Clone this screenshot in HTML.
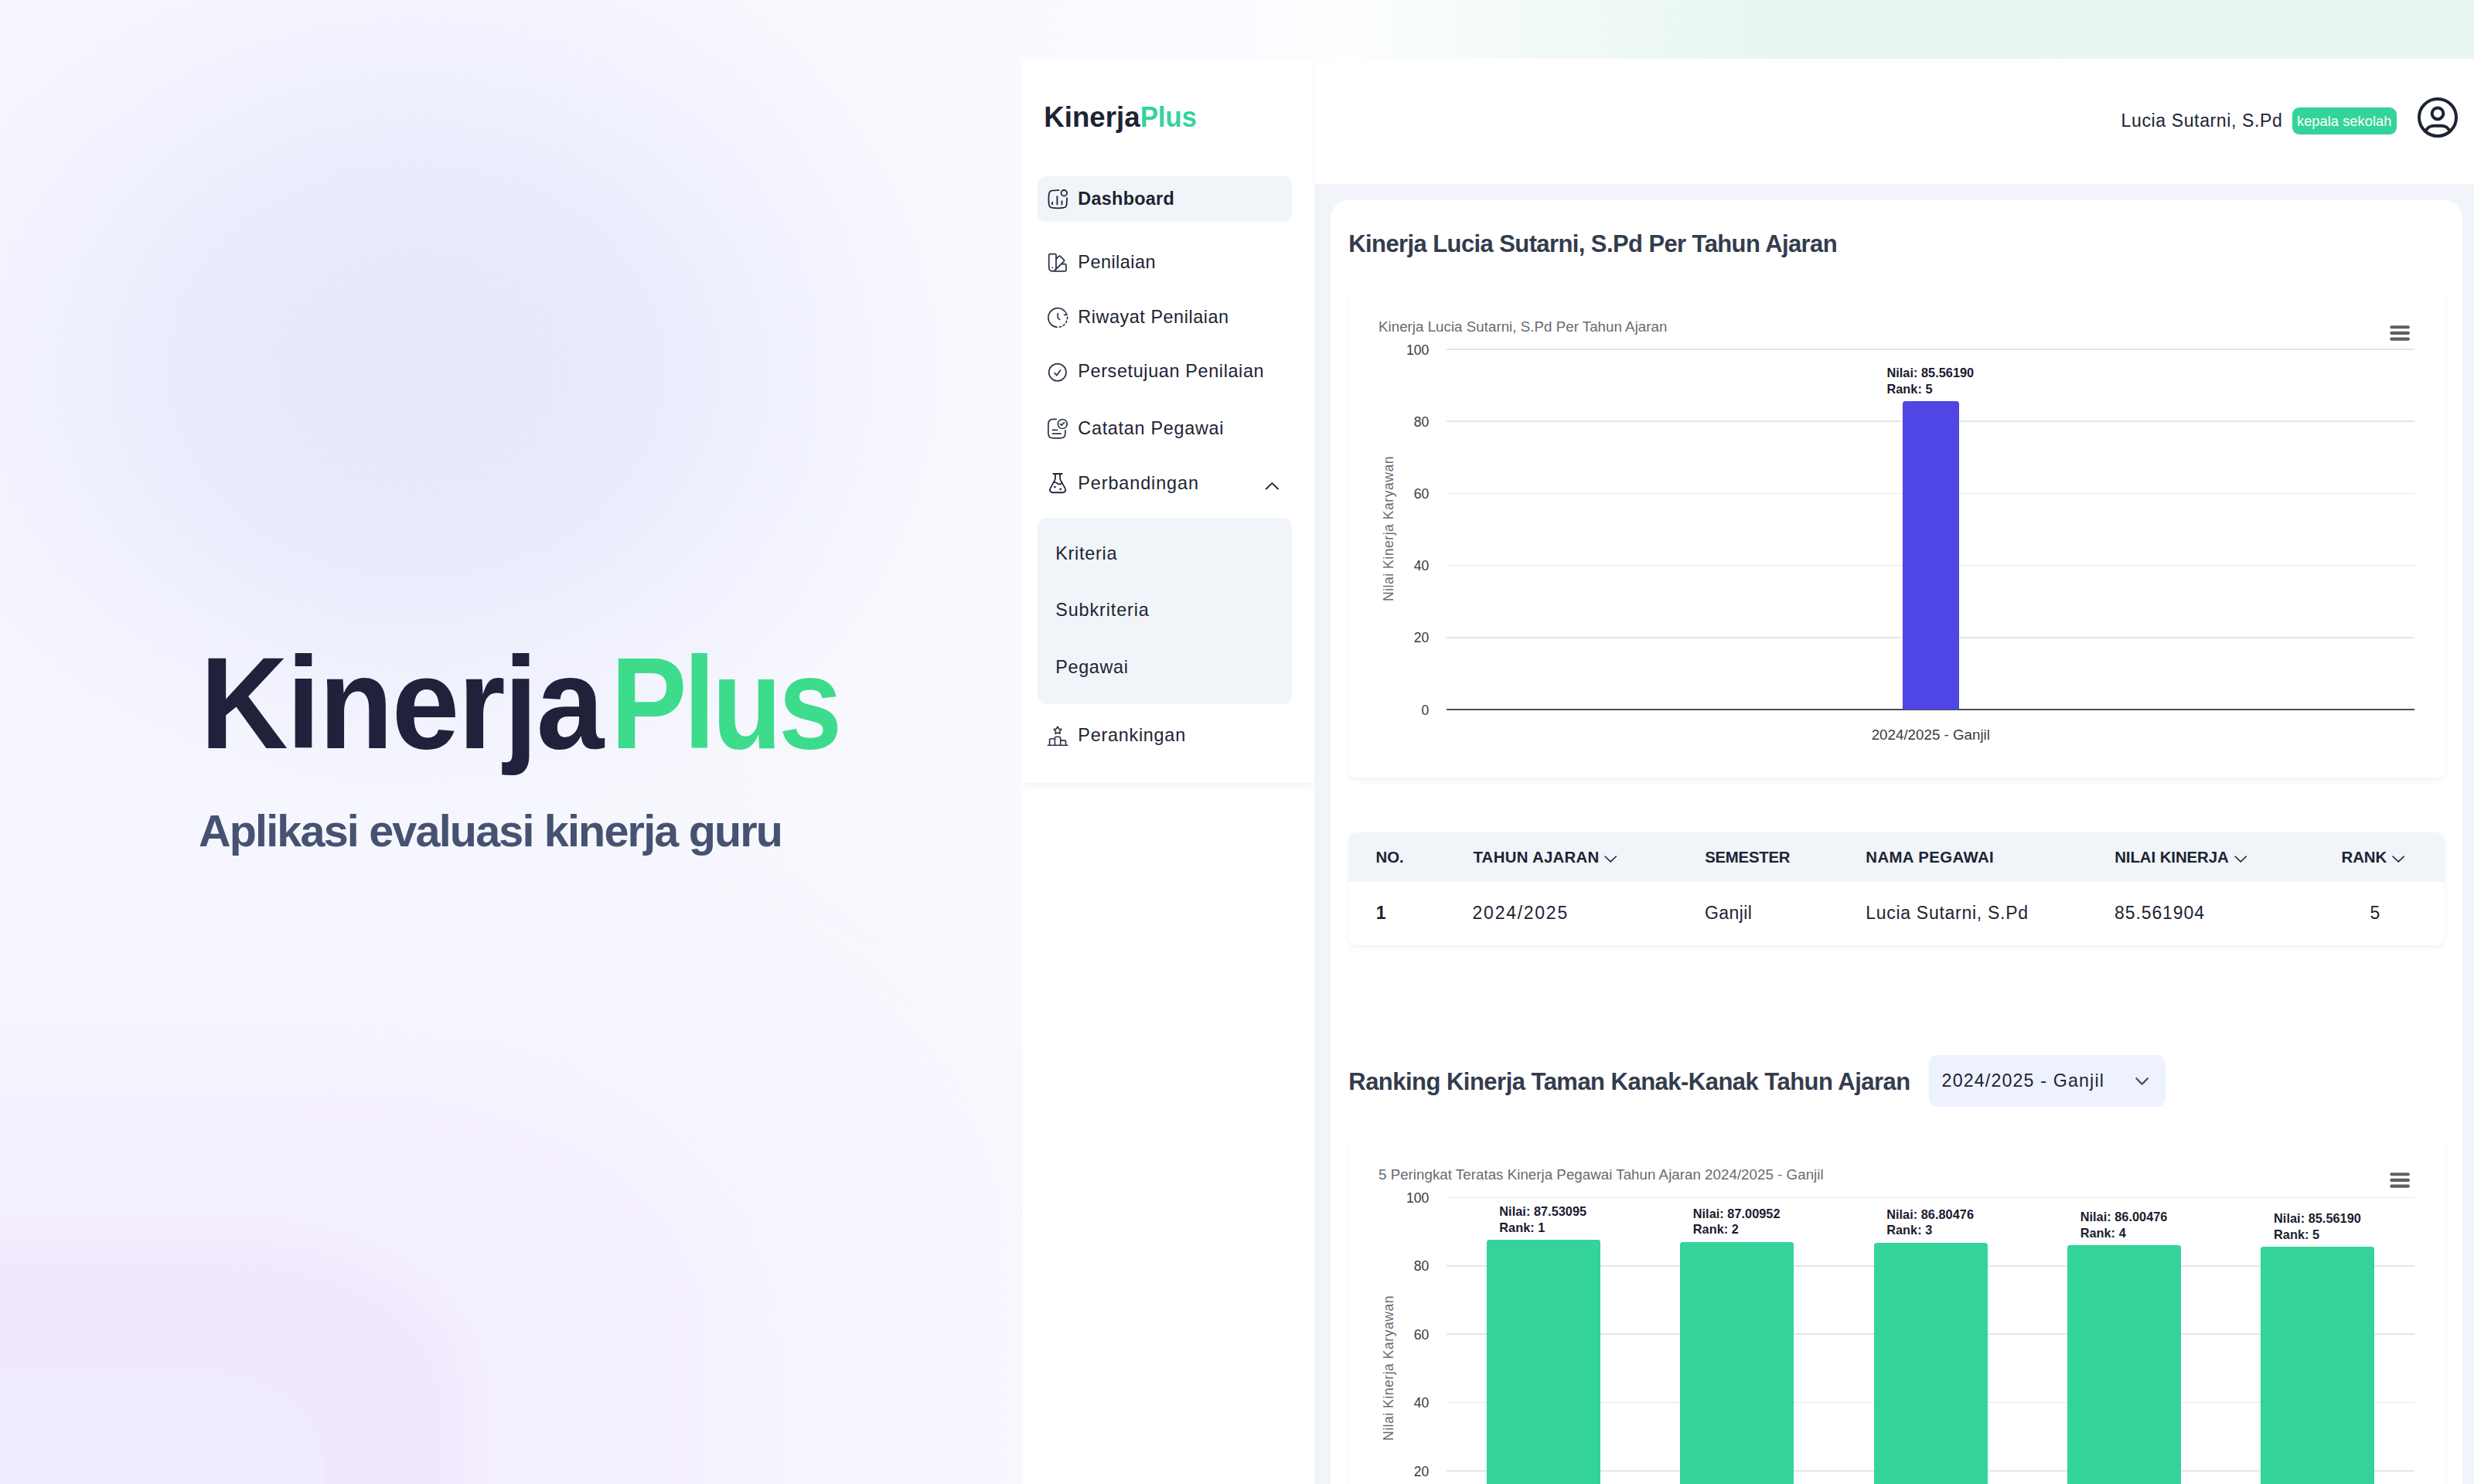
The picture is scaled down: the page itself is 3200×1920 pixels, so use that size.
<!DOCTYPE html>
<html lang="id">
<head>
<meta charset="utf-8">
<title>KinerjaPlus - Aplikasi evaluasi kinerja guru</title>
<style>
*{box-sizing:border-box;margin:0;padding:0}
html,body{width:3200px;height:1920px;overflow:hidden}
body{position:relative;font-family:"Liberation Sans",sans-serif;background:#f8f9fe;color:#1c2434}
.abs,.t{position:absolute}
.t{white-space:nowrap;line-height:1;display:block;font-weight:400}
h1,h2,h3{font-size:inherit;font-weight:inherit}
#bg{left:0;top:0;width:3200px;height:1920px;overflow:hidden;
 background:
  linear-gradient(90deg,rgba(231,246,242,0) 1740px,rgba(231,246,242,.5) 1990px,#e7f6f2 2300px,#e8f6f3 3200px),
  linear-gradient(90deg,#f6f6fe 0%,#f7f7fe 30%,#f9faff 42%,#fbfcff 50%,#fdfeff 56%,#fdfefe 100%);}
#bg i{position:absolute;display:block}
#b1{left:-170px;top:-110px;width:1420px;height:1180px;background:radial-gradient(closest-side,#e7e9fc 0%,#e9ebfc 40%,rgba(236,238,253,.6) 68%,rgba(244,245,254,0) 100%)}
#b2{left:-200px;top:1180px;width:1500px;height:900px;border-radius:0 640px 0 0/0 430px 0 0;background:#f7f4fe;filter:blur(70px)}
#b5{left:-200px;top:1400px;width:1130px;height:700px;border-radius:0 480px 0 0/0 330px 0 0;background:#f4effd;filter:blur(32px)}
#b3{left:-100px;top:1606px;width:697px;height:400px;border-radius:0 300px 0 0/0 190px 0 0;background:#f0e8fd;filter:blur(18px)}
#b4{left:-100px;top:1776px;width:519px;height:300px;border-radius:0 150px 0 0/0 130px 0 0;background:#efedfd;filter:blur(6px)}
#app{background:#fff;overflow:hidden}
#side{background:#fff;box-shadow:0 6px 10px -2px rgba(148,163,184,.13)}
#head{background:#fff;box-shadow:-1px 0 0 #f4f7fa}
#main{background:#f1f5f9}
#card{background:#fff;border-radius:23px 23px 0 0}
.nav-on{background:#f1f5f9;border-radius:10px}
.sub{background:#f1f5f9;border-radius:11px}
.ic{overflow:visible}
.panel{background:#fff;border-radius:10px;box-shadow:0 5px 7px -1px rgba(148,163,184,.13),0 0 1.5px rgba(148,163,184,.08)}
.grid{height:1.6px;background:#e6e6e8}
.axis{height:2px;background:#4e4e52}
.bar{border-radius:3.5px 3.5px 0 0}
.g{background:#34d399}
.v{background:#4f46e5}
.yt{position:absolute;white-space:nowrap;line-height:1;transform-origin:0 0;transform:rotate(-90deg)}
.badge{background:#34d399;border-radius:9px}
.sel{background:#eef2ff;border-radius:11px}
.tbl{background:#fff;border-radius:11px;box-shadow:0 2px 5px rgba(148,163,184,.16)}
.thead{background:#f1f5f9;border-radius:11px 11px 0 0}
</style>
</head>
<body>
<div id="bg" class="abs"><i id="b1"></i><i id="b2"></i><i id="b5"></i><i id="b3"></i><i id="b4"></i></div>

<section id="hero">
<h1>
<span class="t" style="left:258.8px;top:824.94px;font-size:169px;font-weight:700;letter-spacing:-2px;color:#20213a;transform-origin:0 0;transform:scaleX(.931)">Kinerja</span>
<span class="t" style="left:789.7px;top:824.94px;font-size:169px;font-weight:700;letter-spacing:-5px;color:#3ddc8c;transform-origin:0 0;transform:scaleX(.875)">Plus</span>
</h1>
<p class="t" style="left:257.00px;top:1047.33px;font-size:57.5px;font-weight:700;letter-spacing:-1.813px;color:#465272;">Aplikasi evaluasi kinerja guru</p>
</section>
<div id="app" class="abs" style="left:1323px;top:76px;width:1877px;height:1844px">
<aside id="side" class="abs " style="left:0.00px;top:0.00px;width:377.00px;height:937.00px;">
<div class="abs nav-on" style="left:18.80px;top:152.20px;width:329.00px;height:59.00px;"></div>
<div class="abs sub" style="left:18.80px;top:593.80px;width:329.00px;height:241.00px;"></div>
<span class="t" style="left:27.30px;top:57.72px;font-size:36.6px;font-weight:700;letter-spacing:0.030px;color:#1c2434;">Kinerja</span>
<span class="t" style="left:152.30px;top:57.72px;font-size:36.6px;font-weight:700;color:#34d399;letter-spacing:-.2px;transform-origin:0 0;transform:scaleX(.955);">Plus</span>
<span class="t" style="left:71.30px;top:169.89px;font-size:23.4px;font-weight:700;letter-spacing:0.284px;color:#1c2434;">Dashboard</span>
<span class="t" style="left:71.30px;top:251.89px;font-size:23.4px;letter-spacing:0.490px;color:#1c2434;">Penilaian</span>
<span class="t" style="left:71.30px;top:322.99px;font-size:23.4px;letter-spacing:0.550px;color:#1c2434;">Riwayat Penilaian</span>
<span class="t" style="left:71.30px;top:392.99px;font-size:23.4px;letter-spacing:0.637px;color:#1c2434;">Persetujuan Penilaian</span>
<span class="t" style="left:71.30px;top:466.79px;font-size:23.4px;letter-spacing:0.720px;color:#1c2434;">Catatan Pegawai</span>
<span class="t" style="left:71.30px;top:537.59px;font-size:23.4px;letter-spacing:0.906px;color:#1c2434;">Perbandingan</span>
<span class="t" style="left:42.20px;top:628.59px;font-size:23.4px;letter-spacing:0.740px;color:#1c2434;">Kriteria</span>
<span class="t" style="left:42.20px;top:702.19px;font-size:23.4px;letter-spacing:0.885px;color:#1c2434;">Subkriteria</span>
<span class="t" style="left:42.20px;top:775.59px;font-size:23.4px;letter-spacing:0.673px;color:#1c2434;">Pegawai</span>
<span class="t" style="left:71.30px;top:863.89px;font-size:23.4px;letter-spacing:0.750px;color:#1c2434;">Perankingan</span>
<svg class="abs ic" style="left:29.00px;top:166.00px" width="32.00" height="32.00" viewBox="1352.00 242.00 32.00 32.00" fill="none" stroke="#1e2739" stroke-width="1.8" stroke-linecap="round" stroke-linejoin="round"><g transform="translate(1354.04 243.77) scale(1.18 1.165)"><path stroke-width="1.53" d="M22 10.6V12c0 4.714 0 7.071-1.465 8.535C19.072 22 16.714 22 12 22s-7.071 0-8.536-1.465C2 19.072 2 16.714 2 12s0-7.071 1.464-8.536C4.93 2 7.286 2 12 2h1.2"/></g><circle cx="1376.3" cy="249.8" r="3.8"/><path d="M1361.1 261.6V264.4M1367.4 254.1V264.6M1373.5 260.1V264.5"/></svg>
<svg class="abs ic" style="left:30.30px;top:249.20px" width="29.7" height="29.7" viewBox="0 0 24 24" fill="none" stroke="#2b3548" stroke-width="1.42" stroke-linecap="round" stroke-linejoin="round"><path d="M4.098 19.902a3.75 3.75 0 0 0 5.304 0l6.401-6.402M6.75 21A3.75 3.75 0 0 1 3 17.25V4.125C3 3.504 3.504 3 4.125 3h5.25c.621 0 1.125.504 1.125 1.125v4.072M6.75 21a3.75 3.75 0 0 0 3.75-3.75V8.197M6.75 21h13.125c.621 0 1.125-.504 1.125-1.125v-5.25c0-.621-.504-1.125-1.125-1.125h-4.072M10.5 8.197l2.88-2.88c.438-.439 1.15-.439 1.59 0l3.712 3.713c.44.44.44 1.152 0 1.59l-2.879 2.88M6.75 17.25h.008v.008H6.75v-.008Z"/></svg>
<svg class="abs ic" style="left:29.00px;top:319.00px" width="32.00" height="32.00" viewBox="1352.00 395.00 32.00 32.00" fill="none" stroke="#2b3548" stroke-width="1.7" stroke-linecap="round" stroke-linejoin="round"><path d="M1379.81 406.83 A12.35 12.35 0 1 0 1367.12 423.35"/><path d="M1370.56 423.17A12.35 12.35 0 0 0 1372.63 422.58M1375.28 421.17A12.35 12.35 0 0 0 1376.93 419.78M1378.79 417.41A12.35 12.35 0 0 0 1379.73 415.48M1380.46 412.56A12.35 12.35 0 0 0 1380.53 410.40"/><path d="M1379.81 407.33H1376.6"/><path d="M1368.2 405.6V411.2L1370.6 413.4"/></svg>
<svg class="abs ic" style="left:30.20px;top:390.50px" width="29.7" height="29.7" viewBox="0 0 24 24" fill="none" stroke="#2b3548" stroke-width="1.42" stroke-linecap="round" stroke-linejoin="round"><path d="M9 12.75 11.25 15 15 9.75M21 12a9 9 0 1 1-18 0 9 9 0 0 1 18 0Z"/></svg>
<svg class="abs ic" style="left:29.00px;top:462.00px" width="32.00" height="34.00" viewBox="1352.00 538.00 32.00 34.00" fill="none" stroke="#2b3548" stroke-width="1.7" stroke-linecap="round" stroke-linejoin="round"><path d="M1366.2 542.45H1362.4C1358.8 542.45 1355.9 543.6 1355.9 548.9V560.4C1355.9 565.7 1358.8 566.85 1362.4 566.85H1371.4C1375 566.85 1377.9 565.7 1377.9 560.4V556.9"/><circle cx="1374.3" cy="548.5" r="6"/><path d="M1371.5 548.6L1373 550.2L1376.6 546.7"/><path d="M1361.5 556.3H1367.4M1361.5 561.1H1372.3"/></svg>
<svg class="abs ic" style="left:29.00px;top:532.00px" width="32.00" height="34.00" viewBox="1352.00 608.00 32.00 34.00" fill="none" stroke="#1e2739" stroke-width="1.8" stroke-linecap="round" stroke-linejoin="round"><path d="M1362.4 613H1373.7"/><path d="M1365 613V618.2C1365 619.6 1364.6 620.9 1363.9 622.1L1358.6 631.6C1357 634.5 1358.6 637.25 1362 637.25H1374.2C1377.6 637.25 1379.2 634.5 1377.6 631.6L1372.2 622.1C1371.5 620.9 1371.1 619.6 1371.1 618.2V613"/><path d="M1362.9 623.9C1366.4 623 1368.1 626.9 1371 626.7C1372.3 626.6 1373 625.5 1373.4 624.3"/><circle cx="1364.4" cy="630.1" r="0.55" fill="#1e2739"/><circle cx="1371.7" cy="632.9" r="0.55" fill="#1e2739"/></svg>
<svg class="abs ic" style="left:311.00px;top:544.00px" width="24.00" height="18.00" viewBox="1634.00 620.00 24.00 18.00" fill="none" stroke="#1e2739" stroke-width="1.9" stroke-linecap="round" stroke-linejoin="round"><path d="M1637.8 632.5L1645.4 625.1L1653 632.5"/></svg>
<svg class="abs ic" style="left:29.00px;top:860.00px" width="32.00" height="32.00" viewBox="1352.00 936.00 32.00 32.00" fill="none" stroke="#2b3548" stroke-width="1.65" stroke-linecap="round" stroke-linejoin="round"><path d="M1355.3 964.25H1380.9"/><path d="M1357.6 964.2V957.6C1357.6 956.4 1358.4 955.75 1359.5 955.75H1364.4"/><path d="M1364.4 964.2V955C1364.4 953.9 1365.2 953.2 1366.3 953.2H1369.8C1370.9 953.2 1371.7 953.9 1371.7 955V964.2"/><path d="M1371.7 957.9H1376.6C1377.7 957.9 1378.5 958.6 1378.5 959.7V964.2"/><path d="M1368.05 940.20L1369.67 942.98L1372.81 943.65L1370.67 946.05L1370.99 949.25L1368.05 947.95L1365.11 949.25L1365.43 946.05L1363.29 943.65L1366.43 942.98Z"/></svg>
</aside>
<header id="head" class="abs " style="left:377.00px;top:0.00px;width:1500.00px;height:162.00px;">
<span class="t" style="left:1043.60px;top:69.03px;font-size:23.0px;letter-spacing:0.628px;color:#1c2434;">Lucia Sutarni, S.Pd</span>
<div class="abs badge" style="left:1264.90px;top:63.30px;width:135.00px;height:35.00px;"></div>
<span class="t" style="left:1271.00px;top:71.69px;font-size:18.2px;letter-spacing:0.075px;color:#ffffff;">kepala sekolah</span>
<svg class="abs ic" style="left:1421.10px;top:43.80px" width="64" height="64" viewBox="0 0 24 24" fill="none" stroke="#1c2434" stroke-width="1.5" stroke-linecap="round" stroke-linejoin="round"><circle cx="12" cy="12" r="9"/><circle cx="12" cy="10.05" r="2.75"/><path d="M6.168 18.849a4 4 0 0 1 3.832 -2.849h4a4 4 0 0 1 3.834 2.855"/></svg>
</header>
<main id="main" class="abs " style="left:377.00px;top:162.00px;width:1500.00px;height:1682.00px;">
<section id="card" class="abs " style="left:20.60px;top:20.50px;width:1464.40px;height:1700.00px;">
<h2 class="t" style="left:23.70px;top:41.26px;font-size:31.0px;font-weight:700;letter-spacing:-0.597px;color:#333c4d;">Kinerja Lucia Sutarni, S.Pd Per Tahun Ajaran</h2>
<div class="abs panel" style="left:23.10px;top:112.50px;width:1419.30px;height:634.50px;"></div>
<span class="t" style="left:62.40px;top:155.23px;font-size:18.75px;letter-spacing:0.014px;color:#6a6a6e;">Kinerja Lucia Sutarni, S.Pd Per Tahun Ajaran</span>
<svg class="abs ic" style="left:1367.40px;top:160.00px" width="32.00" height="26.00" viewBox="3088.00 418.50 32.00 26.00" fill="none" stroke="#5e5e66" stroke-width="4.1" stroke-linecap="round" stroke-linejoin="round"><path d="M3093.3 422.7H3114.9M3093.3 430.4H3114.9M3093.3 438.1H3114.9"/></svg>
<div class="abs grid" style="left:150.40px;top:192.70px;width:1252.20px;height:1.60px;"></div>
<span class="t" style="left:98.33px;top:186.10px;font-size:17.6px;color:#3a3a3e;">100</span>
<div class="abs grid" style="left:150.40px;top:285.90px;width:1252.20px;height:1.60px;"></div>
<span class="t" style="left:108.12px;top:279.30px;font-size:17.6px;color:#3a3a3e;">80</span>
<div class="abs grid" style="left:150.40px;top:379.10px;width:1252.20px;height:1.60px;"></div>
<span class="t" style="left:108.12px;top:372.50px;font-size:17.6px;color:#3a3a3e;">60</span>
<div class="abs grid" style="left:150.40px;top:472.30px;width:1252.20px;height:1.60px;"></div>
<span class="t" style="left:108.12px;top:465.70px;font-size:17.6px;color:#3a3a3e;">40</span>
<div class="abs grid" style="left:150.40px;top:565.50px;width:1252.20px;height:1.60px;"></div>
<span class="t" style="left:108.12px;top:558.90px;font-size:17.6px;color:#3a3a3e;">20</span>
<div class="abs axis" style="left:150.40px;top:658.90px;width:1252.20px;height:2.00px;"></div>
<span class="t" style="left:117.91px;top:652.10px;font-size:17.6px;color:#3a3a3e;">0</span>
<span class="yt" style="left:67.00px;top:519.40px;font-size:17.6px;letter-spacing:0.502px;color:#6a6a6e">Nilai Kinerja Karyawan</span>
<div class="abs bar v" style="left:740.10px;top:260.78px;width:73.30px;height:399.12px;"></div>
<span class="t" style="left:719.80px;top:215.68px;font-size:16.3px;font-weight:700;letter-spacing:0.038px;color:#1b1b2f;">Nilai: 85.56190</span>
<span class="t" style="left:719.80px;top:236.38px;font-size:16.3px;font-weight:700;letter-spacing:0.046px;color:#1b1b2f;">Rank: 5</span>
<span class="t" style="left:700.10px;top:683.73px;font-size:18.75px;color:#3a3a3e;">2024/2025 - Ganjil</span>
<div class="abs tbl" style="left:23.40px;top:818.00px;width:1418.00px;height:146.70px;"></div>
<div class="abs thead" style="left:23.40px;top:818.00px;width:1418.00px;height:64.40px;"></div>
<span class="t" style="left:59.00px;top:840.03px;font-size:20.4px;font-weight:700;letter-spacing:-0.034px;color:#1c2434;">NO.</span>
<span class="t" style="left:184.80px;top:840.03px;font-size:20.4px;font-weight:700;letter-spacing:0.291px;color:#1c2434;">TAHUN AJARAN</span>
<span class="t" style="left:484.60px;top:840.03px;font-size:20.4px;font-weight:700;letter-spacing:-0.260px;color:#1c2434;">SEMESTER</span>
<span class="t" style="left:692.70px;top:840.03px;font-size:20.4px;font-weight:700;letter-spacing:0.380px;color:#1c2434;">NAMA PEGAWAI</span>
<span class="t" style="left:1014.60px;top:840.03px;font-size:20.4px;font-weight:700;letter-spacing:-0.074px;color:#1c2434;">NILAI KINERJA</span>
<span class="t" style="left:1308.00px;top:840.03px;font-size:20.4px;font-weight:700;letter-spacing:-0.110px;color:#1c2434;">RANK</span>
<svg class="abs ic" style="left:352.90px;top:846.10px" width="20.40" height="12.90" viewBox="2073.50 1104.60 20.40 12.90" fill="none" stroke="#1c2434" stroke-width="1.6" stroke-linecap="round" stroke-linejoin="round"><path d="M2076.5 1107.6L2083.7 1114.5L2090.9 1107.6"/></svg>
<svg class="abs ic" style="left:1167.20px;top:846.10px" width="20.40" height="12.90" viewBox="2887.80 1104.60 20.40 12.90" fill="none" stroke="#1c2434" stroke-width="1.6" stroke-linecap="round" stroke-linejoin="round"><path d="M2890.8 1107.6L2898.0 1114.5L2905.2 1107.6"/></svg>
<svg class="abs ic" style="left:1371.90px;top:846.10px" width="20.40" height="12.90" viewBox="3092.50 1104.60 20.40 12.90" fill="none" stroke="#1c2434" stroke-width="1.6" stroke-linecap="round" stroke-linejoin="round"><path d="M3095.5 1107.6L3102.7 1114.5L3109.9 1107.6"/></svg>
<span class="t" style="left:59.20px;top:911.83px;font-size:23.0px;font-weight:700;color:#1c2434;">1</span>
<span class="t" style="left:184.00px;top:911.83px;font-size:23.0px;letter-spacing:1.734px;color:#1c2434;">2024/2025</span>
<span class="t" style="left:484.40px;top:911.83px;font-size:23.0px;letter-spacing:0.439px;color:#1c2434;">Ganjil</span>
<span class="t" style="left:692.60px;top:911.83px;font-size:23.0px;letter-spacing:0.717px;color:#1c2434;">Lucia Sutarni, S.Pd</span>
<span class="t" style="left:1014.40px;top:911.83px;font-size:23.0px;letter-spacing:0.909px;color:#1c2434;">85.561904</span>
<span class="t" style="left:1344.80px;top:911.83px;font-size:23.0px;color:#1c2434;">5</span>
<h2 class="t" style="left:23.70px;top:1125.16px;font-size:31.0px;font-weight:700;letter-spacing:-0.523px;color:#333c4d;">Ranking Kinerja Taman Kanak-Kanak Tahun Ajaran</h2>
<div class="abs sel" style="left:774.80px;top:1106.90px;width:305.80px;height:66.30px;"></div>
<span class="t" style="left:791.00px;top:1128.76px;font-size:23.2px;letter-spacing:1.164px;color:#1c2434;">2024/2025 - Ganjil</span>
<svg class="abs ic" style="left:1037.40px;top:1131.50px" width="26.00" height="18.00" viewBox="2758.00 1390.00 26.00 18.00" fill="none" stroke="#4b5262" stroke-width="2.3" stroke-linecap="round" stroke-linejoin="round"><path d="M2763.3 1395.3L2770.6 1402.6L2777.9 1395.3"/></svg>
<div class="abs panel" style="left:23.10px;top:1209.00px;width:1419.30px;height:632.50px;"></div>
<span class="t" style="left:62.40px;top:1252.43px;font-size:18.75px;letter-spacing:0.014px;color:#6a6a6e;">5 Peringkat Teratas Kinerja Pegawai Tahun Ajaran 2024/2025 - Ganjil</span>
<svg class="abs ic" style="left:1367.40px;top:1256.70px" width="32.00" height="26.00" viewBox="3088.00 1515.20 32.00 26.00" fill="none" stroke="#5e5e66" stroke-width="4.1" stroke-linecap="round" stroke-linejoin="round"><path d="M3093.3 1519.4H3114.9M3093.3 1527.1H3114.9M3093.3 1534.8H3114.9"/></svg>
<div class="abs grid" style="left:150.40px;top:1290.00px;width:1252.20px;height:1.60px;"></div>
<span class="t" style="left:98.33px;top:1283.40px;font-size:17.6px;color:#3a3a3e;">100</span>
<div class="abs grid" style="left:150.40px;top:1378.45px;width:1252.20px;height:1.60px;"></div>
<span class="t" style="left:108.12px;top:1371.85px;font-size:17.6px;color:#3a3a3e;">80</span>
<div class="abs grid" style="left:150.40px;top:1466.90px;width:1252.20px;height:1.60px;"></div>
<span class="t" style="left:108.12px;top:1460.30px;font-size:17.6px;color:#3a3a3e;">60</span>
<div class="abs grid" style="left:150.40px;top:1555.35px;width:1252.20px;height:1.60px;"></div>
<span class="t" style="left:108.12px;top:1548.75px;font-size:17.6px;color:#3a3a3e;">40</span>
<div class="abs grid" style="left:150.40px;top:1643.80px;width:1252.20px;height:1.60px;"></div>
<span class="t" style="left:108.12px;top:1637.20px;font-size:17.6px;color:#3a3a3e;">20</span>
<span class="yt" style="left:67.00px;top:1605.80px;font-size:17.6px;letter-spacing:0.502px;color:#6a6a6e">Nilai Kinerja Karyawan</span>
<div class="abs bar g" style="left:202.12px;top:1345.94px;width:147.00px;height:325.56px;"></div>
<span class="t" style="left:218.72px;top:1300.85px;font-size:16.3px;font-weight:700;letter-spacing:0.038px;color:#1b1b2f;">Nilai: 87.53095</span>
<span class="t" style="left:218.72px;top:1321.55px;font-size:16.3px;font-weight:700;letter-spacing:0.046px;color:#1b1b2f;">Rank: 1</span>
<div class="abs bar g" style="left:452.56px;top:1348.25px;width:147.00px;height:323.25px;"></div>
<span class="t" style="left:469.16px;top:1303.15px;font-size:16.3px;font-weight:700;letter-spacing:0.038px;color:#1b1b2f;">Nilai: 87.00952</span>
<span class="t" style="left:469.16px;top:1323.85px;font-size:16.3px;font-weight:700;letter-spacing:0.046px;color:#1b1b2f;">Rank: 2</span>
<div class="abs bar g" style="left:703.00px;top:1349.16px;width:147.00px;height:322.34px;"></div>
<span class="t" style="left:719.60px;top:1304.06px;font-size:16.3px;font-weight:700;letter-spacing:0.038px;color:#1b1b2f;">Nilai: 86.80476</span>
<span class="t" style="left:719.60px;top:1324.76px;font-size:16.3px;font-weight:700;letter-spacing:0.046px;color:#1b1b2f;">Rank: 3</span>
<div class="abs bar g" style="left:953.44px;top:1352.69px;width:147.00px;height:318.81px;"></div>
<span class="t" style="left:970.04px;top:1307.60px;font-size:16.3px;font-weight:700;letter-spacing:0.038px;color:#1b1b2f;">Nilai: 86.00476</span>
<span class="t" style="left:970.04px;top:1328.30px;font-size:16.3px;font-weight:700;letter-spacing:0.046px;color:#1b1b2f;">Rank: 4</span>
<div class="abs bar g" style="left:1203.88px;top:1354.65px;width:147.00px;height:316.85px;"></div>
<span class="t" style="left:1220.48px;top:1309.55px;font-size:16.3px;font-weight:700;letter-spacing:0.038px;color:#1b1b2f;">Nilai: 85.56190</span>
<span class="t" style="left:1220.48px;top:1330.25px;font-size:16.3px;font-weight:700;letter-spacing:0.046px;color:#1b1b2f;">Rank: 5</span>
</section>
</main>
</div>
</body>
</html>
